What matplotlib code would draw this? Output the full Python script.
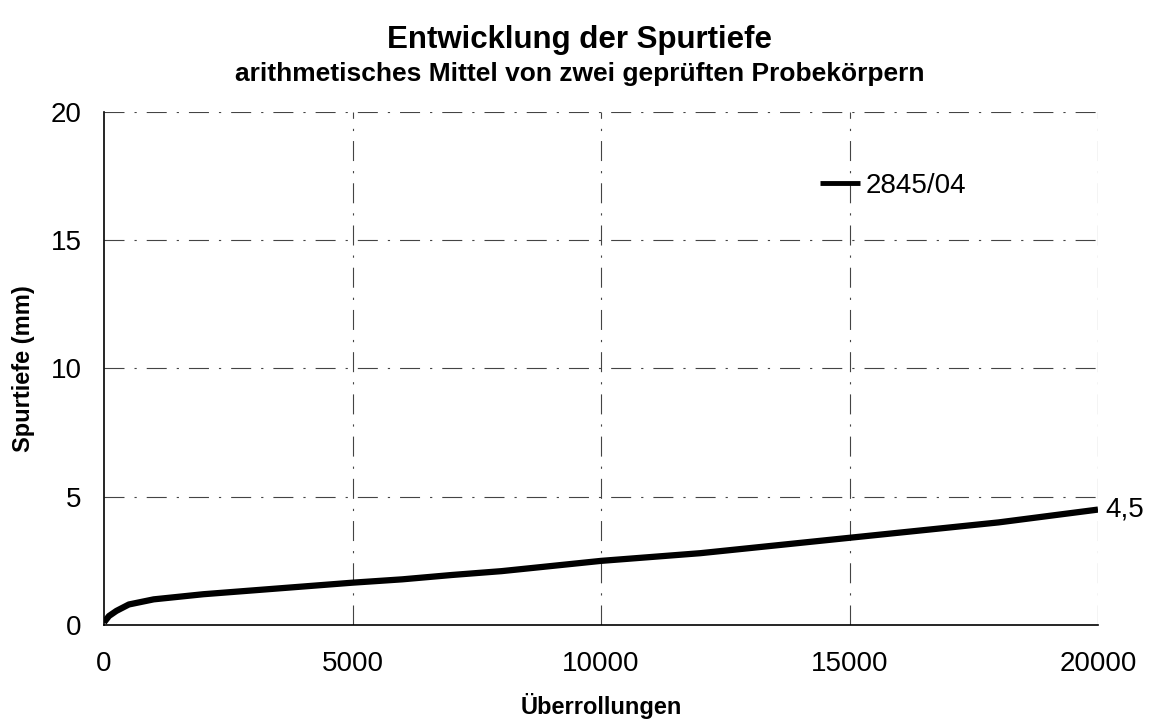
import matplotlib
matplotlib.use("Agg")
import matplotlib.pyplot as plt

plt.rcParams['font.family'] = ['Liberation Sans', 'DejaVu Sans']

# mean rut depth over wheel passes
ueberrollungen = [0, 100, 250, 500, 1000, 1500, 2000, 3000, 4000, 5000, 6000, 7000,
                  8000, 9000, 10000, 11000, 12000, 13000, 14000, 15000, 16000,
                  17000, 18000, 19000, 20000]
spurtiefe = [0.1, 0.35, 0.55, 0.8, 1.0, 1.1, 1.2, 1.35, 1.5, 1.65, 1.78, 1.95,
             2.1, 2.3, 2.5, 2.65, 2.8, 3.0, 3.2, 3.4, 3.6, 3.8, 4.0, 4.25, 4.5]
serie = "2845/04"
endwert = "4,5"

fig = plt.figure(figsize=(11.59, 7.28), dpi=100)
ax = fig.add_axes([104 / 1159, 1 - 625 / 728, (1098 - 104) / 1159, (625 - 112) / 728])

grid_style = dict(color="#444444", linewidth=0.8, linestyle=(0, (18, 9, 2, 9)))
for gx in [5000, 10000, 15000, 20000]:
    ax.axvline(gx, **grid_style, zorder=1)
for gy in [5, 10, 15, 20]:
    ax.axhline(gy, **grid_style, zorder=1)

ax.plot(ueberrollungen, spurtiefe, color="black", linewidth=4.5, solid_capstyle="butt",
        label=serie, zorder=3)
ax.annotate(endwert, (ueberrollungen[-1], spurtiefe[-1]), xytext=(5, 0),
            textcoords="offset points", fontsize=20, va="center", ha="left",
            annotation_clip=False)

ax.set_xlim(0, 20000)
ax.set_ylim(0, 20)
ax.set_xticks([0, 5000, 10000, 15000, 20000])
ax.set_yticks([0, 5, 10, 15, 20])
ax.tick_params(axis="x", labelsize=20, length=0, pad=19)
ax.tick_params(axis="y", labelsize=20, length=0, pad=16)
for side in ["top", "right"]:
    ax.spines[side].set_visible(False)
for side in ["left", "bottom"]:
    ax.spines[side].set_linewidth(1.2)

ax.set_xlabel("Überrollungen", fontsize=17, fontweight="bold", labelpad=11)
ax.set_ylabel("Spurtiefe (mm)", fontsize=17, fontweight="bold", labelpad=11)

fig.text(0.5, 1 - 40 / 728, "Entwicklung der Spurtiefe", ha="center", va="center",
         fontsize=22.5, fontweight="bold")
fig.text(0.5, 1 - 74 / 728, "arithmetisches Mittel von zwei geprüften Probekörpern",
         ha="center", va="center", fontsize=19, fontweight="bold")

leg = ax.legend(loc="center left", bbox_to_anchor=(820 / 1159, 1 - 186 / 728),
                bbox_transform=fig.transFigure, frameon=False, fontsize=20,
                handlelength=1.45, handletextpad=0.2, borderpad=0, borderaxespad=0)
leg.get_lines()[0].set_linewidth(3.5)

fig.savefig("out.png", dpi=100)
